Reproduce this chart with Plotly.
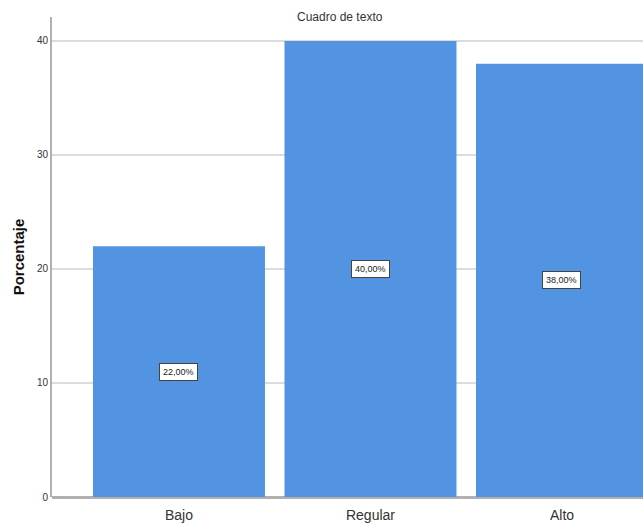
import plotly.graph_objects as go

categories = ["Bajo", "Regular", "Alto"]
values = [22.0, 40.0, 38.0]
labels = ["22,00%", "40,00%", "38,00%"]
y_ticks = [0, 10, 20, 30, 40]

bar_color = "#5294E2"
font_main = "Liberation Sans, Arial"

fig = go.Figure()
fig.add_trace(go.Bar(
    x=categories, y=values, width=0.898,
    marker=dict(color=bar_color, line=dict(width=0)),
    hoverinfo="skip",
))

for c, v, t in zip(categories, values, labels):
    fig.add_annotation(
        x=c, y=v / 2, text=t, showarrow=False,
        font=dict(family=font_main, size=9, color="#222222"),
        bgcolor="white", bordercolor="#444444", borderwidth=1, borderpad=3,
    )

fig.add_annotation(
    xref="paper", yref="paper", x=0.487, y=1.0, yanchor="middle",
    text="Cuadro de texto", showarrow=False,
    font=dict(family=font_main, size=12, color="#333333"),
)

fig.update_layout(
    width=643, height=525,
    margin=dict(l=52, r=0, t=17, b=28),
    paper_bgcolor="white", plot_bgcolor="white",
    showlegend=False,
    bargap=0.1,
)
fig.update_xaxes(
    range=[-0.663, 2.423], showgrid=False, showline=False, zeroline=False,
    ticks="", ticklabelstandoff=8,
    tickfont=dict(family=font_main, size=14, color="#333333"),
)
fig.update_yaxes(
    range=[0, 42.1], tickvals=y_ticks, showgrid=True, gridcolor="#dcdcdc", gridwidth=2,
    showline=True, linecolor="#b0b0b0", linewidth=2, zeroline=True, zerolinecolor="#b0b0b0",
    zerolinewidth=3, ticks="", ticklen=0,
    tickfont=dict(family=font_main, size=10, color="#333333"),
    title=dict(text="<b>Porcentaje</b>", font=dict(family=font_main, size=15, color="#111111"), standoff=9),
)

fig.write_html("out.html")
